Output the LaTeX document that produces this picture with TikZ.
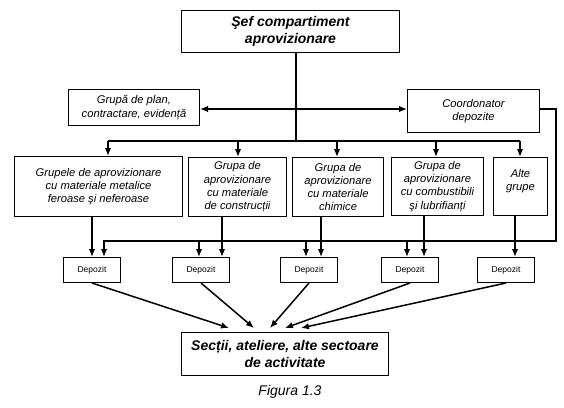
\documentclass[tikz,border=0pt]{standalone}
\usepackage{fontspec}
\setmainfont{Liberation Sans}
\usetikzlibrary{arrows.meta}
\begin{document}
\begin{tikzpicture}[x=1pt,y=-1pt,
 box/.style={draw,line width=1pt,inner sep=0pt,anchor=north west,align=center},
 grp/.style={box,font=\fontsize{11.2}{13.3}\selectfont\itshape},
 head/.style={box,font=\fontsize{14}{17}\selectfont\bfseries\itshape},
 dep/.style={box,font=\fontsize{8.5}{10}\selectfont,minimum width=57pt,minimum height=25pt},
 conn/.style={line width=1.5pt},
 arr/.style={conn,-{Latex[length=8pt,width=6.5pt]}},
 biarr/.style={conn,{Latex[length=8pt,width=6.5pt]}-{Latex[length=8pt,width=6.5pt]}},
]
\useasboundingbox (0,0) rectangle (564,407);
% boxes
\node[head,minimum width=218pt,minimum height=42pt] (sef) at (181,10) {Şef compartiment\\aprovizionare};
\node[grp,minimum width=131pt,minimum height=36pt] (plan) at (68,89) {Grupă de plan,\\contractare, evidență};
\node[grp,minimum width=132pt,minimum height=43pt] (coord) at (407,89) {Coordonator\\depozite};
\node[grp,minimum width=168pt,minimum height=60pt] (g1) at (14,156) {Grupele de aprovizionare\\cu materiale metalice\\feroase şi neferoase};
\node[grp,minimum width=98pt,minimum height=59pt] (g2) at (188,157) {Grupa de\\aprovizionare\\cu materiale\\de construcții};
\node[grp,minimum width=91pt,minimum height=59pt] (g3) at (292,157) {Grupa de\\aprovizionare\\cu materiale\\chimice};
\node[grp,minimum width=92pt,minimum height=58pt] (g4) at (391,157) {Grupa de\\aprovizionare\\cu combustibili\\şi lubrifianți};
\node[grp,minimum width=54pt,minimum height=58pt] (g5) at (493,157) {Alte\\grupe\\\mbox{}};
\node[dep] (d1) at (63,257) {Depozit};
\node[dep] (d2) at (172,257) {Depozit};
\node[dep] (d3) at (280,257) {Depozit};
\node[dep] (d4) at (381,257) {Depozit};
\node[dep] (d5) at (477,257) {Depozit};
\node[head,minimum width=207pt,minimum height=43pt] (sec) at (181,332) {Secții, ateliere, alte sectoare\\de activitate};
\node[font=\fontsize{14}{17}\selectfont\itshape] (fig) at (290,392) {Figura 1.3};
% coordinates
\coordinate (bus) at (296,141);
\coordinate (h) at (296,109);
\coordinate (b1) at (108,141);
\coordinate (b2) at (238,141);
\coordinate (b3) at (337,141);
\coordinate (b4) at (436,141);
\coordinate (b5) at (520,141);
\coordinate (k1) at (92,241);
\coordinate (k2) at (222,241);
\coordinate (k3) at (321,241);
\coordinate (k4) at (424,241);
\coordinate (k5) at (515,241);
\coordinate (r1) at (556,241);
\coordinate (ret) at (104,241);
\coordinate (q2) at (199,241);
\coordinate (q3) at (306,241);
\coordinate (q4) at (407,241);
\coordinate (e1) at (229,328);
\coordinate (e2) at (254,328);
\coordinate (e3) at (270,328);
\coordinate (e4) at (285,328);
\coordinate (e5) at (301,328);
% connectors
\draw[conn] (sef.south -| bus) -- (bus);
\draw[biarr] (h -| plan.east) -- (h -| coord.west);
\draw[conn] (b1) -- (b5);
\foreach \b/\g in {b1/g1,b2/g2,b3/g3,b4/g4,b5/g5}
  \draw[arr] (\b) -- (\b |- \g.north);
\foreach \k/\g/\d in {k1/g1/d1,k2/g2/d2,k3/g3/d3,k4/g4/d4,k5/g5/d5}
  \draw[arr] (\k |- \g.south) -- (\k |- \d.north);
\draw[arr] (coord.east |- h) -| (r1) -- (ret) -- (ret |- d1.north);
\foreach \q/\d in {q2/d2,q3/d3,q4/d4}
  \draw[arr] (\q) -- (\q |- \d.north);
\foreach \d/\e in {d1/e1,d2/e2,d3/e3,d4/e4,d5/e5}
  \draw[arr] (\d.south) -- (\e);
\end{tikzpicture}
\end{document}
